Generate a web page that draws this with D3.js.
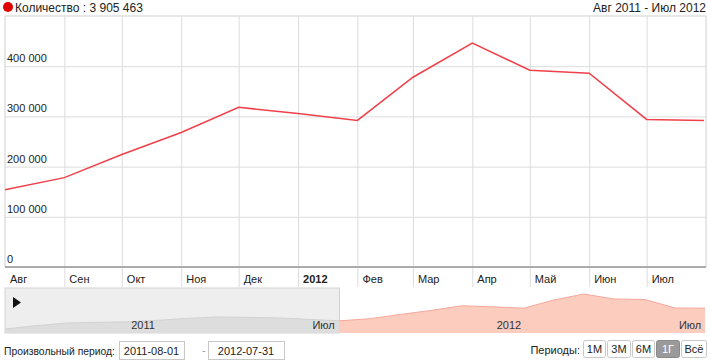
<!DOCTYPE html>
<html>
<head>
<meta charset="utf-8">
<script src="https://cdn.jsdelivr.net/npm/d3@7"></script>
<style>
  body { margin: 0; background: #fff; }
  text { font-family: "Liberation Sans", Arial, sans-serif; fill: #222; }
  .grid line { stroke: #dcdcdc; }
  .grid path { display: none; }
</style>
</head>
<body>
<div id="chart"></div>
<script>
// main series: monthly counts, Aug 2011 - Jul 2012
let dates = ["2011-08-01", "2011-09-01", "2011-10-01", "2011-11-01", "2011-12-01", "2012-01-01",
  "2012-02-01", "2012-03-01", "2012-04-01", "2012-05-01", "2012-06-01", "2012-07-01", "2012-07-31"];
let values = [154000, 178000, 224000, 268000, 318000, 306000, 292000, 378000, 446000, 392000, 386000, 294000, 292000];

// earlier months only visible in the navigator
let navDates = ["2010-09-01", "2010-10-01", "2010-11-01", "2010-12-01", "2011-01-01", "2011-02-01",
  "2011-03-01", "2011-04-01", "2011-05-01", "2011-06-01", "2011-07-01"];
let navValues = [65000, 100000, 130000, 138000, 143000, 160000, 180000, 197000, 192000, 186000, 170000];

let monthLabels = ["Авг", "Сен", "Окт", "Ноя", "Дек", "2012", "Фев", "Мар", "Апр", "Май", "Июн", "Июл"];
let yTicks = [0, 100000, 200000, 300000, 400000];
let navLabels = [["2011-01-01", "2011"], ["2011-07-01", "Июл"], ["2012-01-01", "2012"], ["2012-07-01", "Июл"]];
let periods = ["1М", "3М", "6М", "1Г", "Всё"];

let parse = d3.timeParse("%Y-%m-%d");
let data = dates.map((d, i) => ({ date: parse(d), value: values[i] }));
let navData = navDates.map((d, i) => ({ date: parse(d), value: navValues[i] })).concat(data);

let W = 710, H = 364;
let plot = { left: 5, right: 706, top: 16, bottom: 267 };

let svg = d3.select("#chart").append("svg").attr("width", W).attr("height", H);

let x = d3.scaleTime().domain([parse("2011-08-01"), parse("2012-08-01")]).range([plot.left, plot.right]);
let y = d3.scaleLinear().domain([0, 500000]).range([plot.bottom, plot.top]);

let fmt = d3.formatLocale({ decimal: ",", thousands: " ", grouping: [3], currency: ["", ""] }).format(",");

// header
svg.append("circle").attr("cx", 8).attr("cy", 7).attr("r", 5).attr("fill", "#e00000");
svg.append("text").attr("x", 15).attr("y", 11.5).style("font-size", "12px").text("Количество : " + fmt(3905463));
svg.append("text").attr("x", 706).attr("y", 11.5).attr("text-anchor", "end").style("font-size", "12px").text("Авг 2011 - Июл 2012");

// frame
svg.append("rect").attr("x", plot.left).attr("y", plot.top).attr("width", plot.right - plot.left)
  .attr("height", plot.bottom - plot.top).attr("fill", "none").attr("stroke", "#d0d0d0");

// horizontal grid
svg.append("g").attr("class", "grid")
  .attr("transform", "translate(" + plot.left + ",0)")
  .call(d3.axisRight(y).tickValues(yTicks).tickSize(plot.right - plot.left).tickFormat(""));

// vertical grid, running into the label row
let monthTicks = dates.slice(0, 12).map(parse);
svg.append("g").attr("class", "grid")
  .attr("transform", "translate(0," + plot.top + ")")
  .call(d3.axisBottom(x).tickValues(monthTicks.slice(1)).tickSize(287 - plot.top).tickFormat(""));

// y labels above grid lines
svg.selectAll(".ylab").data(yTicks).enter().append("text")
  .attr("class", "ylab")
  .attr("x", 7).attr("y", (d) => y(d) - 4)
  .style("font-size", "11px")
  .text((d) => fmt(d));

// x axis line and labels
svg.append("line").attr("x1", plot.left).attr("x2", plot.right)
  .attr("y1", plot.bottom).attr("y2", plot.bottom).attr("stroke", "#777");

svg.selectAll(".xlab").data(monthTicks).enter().append("text")
  .attr("class", "xlab")
  .attr("x", (d) => x(d) + 5).attr("y", 283)
  .style("font-size", "11px")
  .style("font-weight", (d, i) => (i == 5 ? "bold" : "normal"))
  .text((d, i) => monthLabels[i]);

// series line
let line = d3.line().x((d) => x(d.date)).y((d) => y(d.value));
svg.append("path").datum(data).attr("d", line)
  .attr("fill", "none").attr("stroke", "#f0404a").attr("stroke-width", 1.5);

// navigator
let nav = { left: 5, right: 706, top: 288, bottom: 333 };
let nx = d3.scaleTime().domain([parse("2010-09-01"), parse("2012-08-01")]).range([nav.left, nav.right]);
let ny = d3.scaleLinear().domain([0, 446000]).range([335, 294]);
let selStart = nx(parse("2011-08-01"));

let defs = svg.append("defs");
defs.append("clipPath").attr("id", "clipLeft").append("rect")
  .attr("x", nav.left).attr("y", nav.top).attr("width", selStart - nav.left).attr("height", nav.bottom - nav.top);
defs.append("clipPath").attr("id", "clipRight").append("rect")
  .attr("x", selStart).attr("y", nav.top).attr("width", nav.right - selStart).attr("height", nav.bottom - nav.top);

svg.append("rect").attr("x", nav.left).attr("y", nav.top).attr("width", selStart - nav.left)
  .attr("height", nav.bottom - nav.top).attr("fill", "#eeeeee").attr("stroke", "#d4d4d4");

let area = d3.area().x((d) => nx(d.date)).y0(nav.bottom).y1((d) => ny(d.value));
let navLine = d3.line().x((d) => nx(d.date)).y((d) => ny(d.value));

svg.append("path").datum(navData).attr("d", area).attr("fill", "#dddddd").attr("clip-path", "url(#clipLeft)");
svg.append("path").datum(navData).attr("d", navLine).attr("fill", "none").attr("stroke", "#d2d2d2").attr("clip-path", "url(#clipLeft)");
svg.append("path").datum(navData).attr("d", area).attr("fill", "#fcccbe").attr("clip-path", "url(#clipRight)");
svg.append("path").datum(navData).attr("d", navLine).attr("fill", "none").attr("stroke", "#f4a89a").attr("clip-path", "url(#clipRight)");

// play button
svg.append("path").attr("d", "M13,297 L21,302.5 L13,308 Z").attr("fill", "#111");

svg.selectAll(".navlab").data(navLabels).enter().append("text")
  .attr("class", "navlab")
  .attr("x", (d) => nx(parse(d[0])) + 4).attr("y", 329)
  .style("font-size", "11px").style("fill", "#333")
  .text((d) => d[1]);

// bottom controls
svg.append("text").attr("x", 4).attr("y", 355).style("font-size", "11px")
  .attr("textLength", 111).attr("lengthAdjust", "spacingAndGlyphs").text("Произвольный период:");
let boxes = [[119, 65, "2011-08-01"], [208, 76, "2012-07-31"]];
boxes.forEach((b) => {
  svg.append("rect").attr("x", b[0] + 0.5).attr("y", 341.5).attr("width", b[1]).attr("height", 18)
    .attr("fill", "#fff").attr("stroke", "#c8c8c8");
  svg.append("text").attr("x", b[0] + b[1] / 2).attr("y", 355).attr("text-anchor", "middle")
    .style("font-size", "11px").text(b[2]);
});
svg.append("text").attr("x", 202).attr("y", 354).style("font-size", "11px").style("fill", "#999").text("-");

svg.append("text").attr("x", 580).attr("y", 354).attr("text-anchor", "end").style("font-size", "11px").text("Периоды:");
let bx = 583;
let bw = [22, 23, 22, 23, 25];
periods.forEach((p, i) => {
  let active = p == "1Г";
  svg.append("rect").attr("x", bx + 0.5).attr("y", 340.5).attr("width", bw[i]).attr("height", 17).attr("rx", 2)
    .attr("fill", active ? "#9a9a9a" : "#fff").attr("stroke", active ? "#8a8a8a" : "#c8c8c8");
  svg.append("text").attr("x", bx + bw[i] / 2 + 0.5).attr("y", 353).attr("text-anchor", "middle")
    .style("font-size", "11px").style("fill", active ? "#fff" : "#222").text(p);
  bx += bw[i] + 2;
});
</script>
</body>
</html>
